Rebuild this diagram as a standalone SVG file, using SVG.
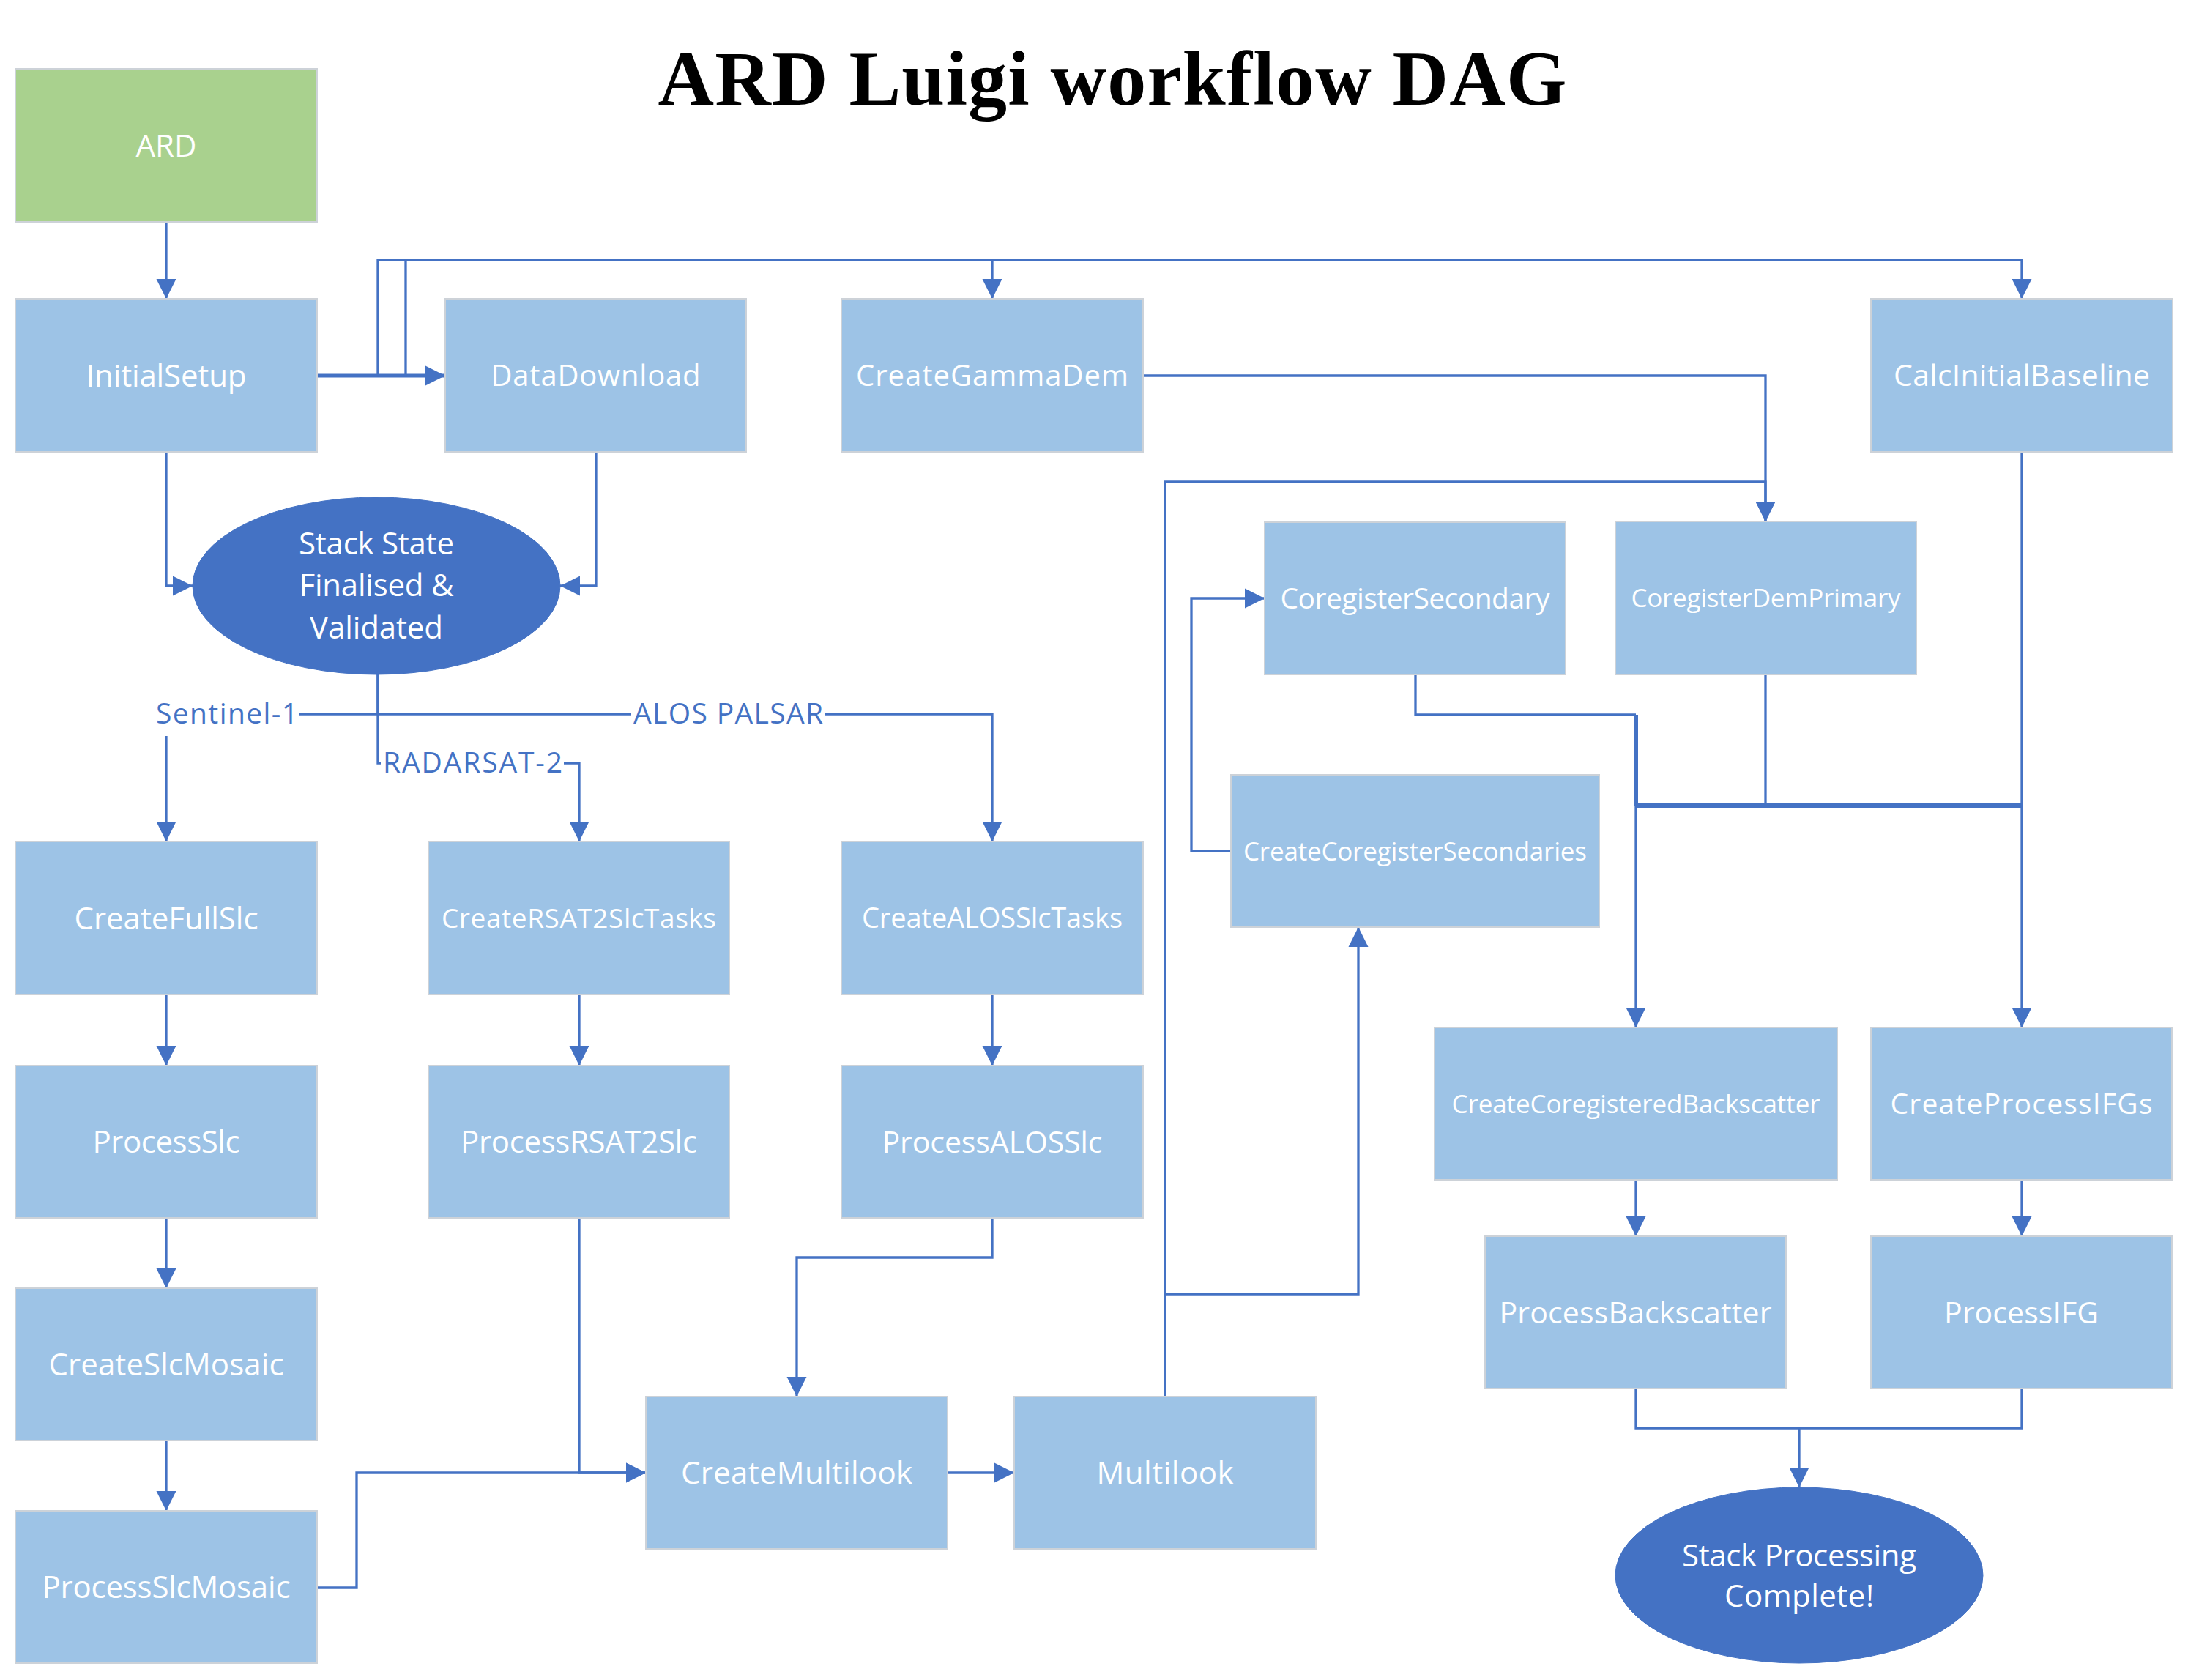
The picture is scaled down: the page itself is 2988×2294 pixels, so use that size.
<svg xmlns="http://www.w3.org/2000/svg" width="2988" height="2294" viewBox="0 0 2988 2294">
<style>
.box{fill:#9dc3e6;stroke:#cdd2d8;stroke-width:2}
.green{fill:#a9d18e;stroke:#cdd2d8;stroke-width:2}
.ell{fill:#4472c4;stroke:#4472c4;stroke-width:1}
.t{font-family:"Open Sans","Noto Sans","DejaVu Sans",sans-serif;fill:#ffffff;text-anchor:middle}
.lbl{font-family:"Open Sans","Noto Sans","DejaVu Sans",sans-serif;fill:#4472c4;font-size:39px}
.c{fill:none;stroke:#4472c4;stroke-width:3.3}
.arr{marker-end:url(#ah)}
.thick{stroke-width:6}
.title{font-family:"Liberation Serif","Times New Roman",serif;font-weight:bold;font-size:106px;fill:#000000;text-anchor:middle}
</style>
<defs>
<marker id="ah" markerUnits="userSpaceOnUse" markerWidth="28" markerHeight="28" refX="27" refY="13.5" orient="auto" viewBox="0 0 28 27">
<path d="M0,0 L27,13.5 L0,27 Z" fill="#4472c4"/>
</marker>
</defs>
<rect width="2988" height="2294" fill="#ffffff"/>
<text class="title" x="1519" y="143" textLength="1241">ARD Luigi workflow DAG</text>

<g id="connectors">
<path class="c arr" d="M227,303 V408"/>
<path class="c arr" style="stroke-width:5" d="M433,513 H608"/>
<path class="c arr" d="M433,513 H516 V355 H1355 V408"/>
<path class="c arr" d="M433,513 H554 V355 H2761 V408"/>
<path class="c arr" d="M227,617 V800 H263"/>
<path class="c arr" d="M814,617 V800 H765"/>
<path class="c arr" d="M516,920 V975 H227 V1149"/>
<path class="c arr" d="M516,920 V1042 H791 V1149"/>
<path class="c arr" d="M516,975 H1355 V1149"/>
<path class="c arr" d="M227,1358 V1455"/>
<path class="c arr" d="M227,1663 V1759"/>
<path class="c arr" d="M227,1967 V2063"/>
<path class="c arr" d="M791,1358 V1455"/>
<path class="c arr" d="M1355,1358 V1455"/>
<path class="c arr" d="M433,2168 H487 V2011 H882"/>
<path class="c arr" d="M791,1663 V2011 H882"/>
<path class="c arr" d="M1355,1663 V1717 H1088 V1907"/>
<path class="c arr" d="M1294,2011 H1385"/>
<path class="c arr" d="M1591,1907 V658 H2411 V712"/>
<path class="c arr" d="M1561,513 H2411 V712"/>
<path class="c arr" d="M1591,1767 H1855 V1266"/>
<path class="c arr" d="M1681,1162 H1627 V817 H1727"/>
<path class="c" d="M1933,921 V976 H2234"/>
<path class="c thick" d="M2234,976 V1100"/>
<path class="c arr" d="M2234,1100 V1403"/>
<path class="c" d="M2411,921 V1100"/>
<path class="c thick" d="M2234,1100 H2761"/>
<path class="c arr" d="M2761,617 V1403"/>
<path class="c arr" d="M2234,1611 V1688"/>
<path class="c arr" d="M2761,1611 V1688"/>
<path class="c arr" d="M2234,1896 V1950 H2457 V2031"/>
<path class="c" d="M2761,1896 V1950 H2457"/>
<rect x="209" y="955" width="200" height="50" fill="#ffffff"/>
<text class="lbl" x="213" y="988" textLength="194">Sentinel-1</text>
<rect x="862" y="957" width="264" height="38" fill="#ffffff"/>
<text class="lbl" x="865" y="988" textLength="259">ALOS PALSAR</text>
<rect x="520" y="1024" width="250" height="38" fill="#ffffff"/>
<text class="lbl" x="523" y="1055" textLength="245">RADARSAT-2</text>
</g>

<g id="ARD"><rect class="green" x="21" y="94" width="412" height="209"/><text class="t" x="227" y="213.5" font-size="42" textLength="83">ARD</text></g>
<g id="InitialSetup"><rect class="box" x="21" y="408" width="412" height="209"/><text class="t" x="227" y="527.5" font-size="42" textLength="219">InitialSetup</text></g>
<g id="DataDownload"><rect class="box" x="608" y="408" width="411" height="209"/><text class="t" x="813.5" y="527" font-size="40" textLength="286">DataDownload</text></g>
<g id="CreateGammaDem"><rect class="box" x="1149" y="408" width="412" height="209"/><text class="t" x="1355" y="527" font-size="40" textLength="372">CreateGammaDem</text></g>
<g id="CalcInitialBaseline"><rect class="box" x="2555" y="408" width="412" height="209"/><text class="t" x="2761" y="527" font-size="41" textLength="350">CalcInitialBaseline</text></g>
<g id="StackStateFinalised"><ellipse class="ell" cx="514" cy="800" rx="251" ry="121"/>
<text class="t" x="514" y="757" font-size="42" textLength="212">Stack State</text>
<text class="t" x="514" y="814" font-size="42" textLength="211">Finalised &amp;</text>
<text class="t" x="514" y="872" font-size="42" textLength="182">Validated</text></g>
<g id="CoregisterSecondary"><rect class="box" x="1727" y="713" width="411" height="208"/><text class="t" x="1932.5" y="831" font-size="39" textLength="368">CoregisterSecondary</text></g>
<g id="CoregisterDemPrimary"><rect class="box" x="2206" y="712" width="411" height="209"/><text class="t" x="2411.5" y="829" font-size="35" textLength="368">CoregisterDemPrimary</text></g>
<g id="CreateCoregisterSecondaries"><rect class="box" x="1681" y="1058" width="503" height="208"/><text class="t" x="1932.5" y="1174.5" font-size="35" textLength="469">CreateCoregisterSecondaries</text></g>
<g id="CreateFullSlc"><rect class="box" x="21" y="1149" width="412" height="209"/><text class="t" x="227" y="1268.5" font-size="42" textLength="251">CreateFullSlc</text></g>
<g id="CreateRSAT2SlcTasks"><rect class="box" x="585" y="1149" width="411" height="209"/><text class="t" x="790.5" y="1266.5" font-size="37" textLength="375">CreateRSAT2SlcTasks</text></g>
<g id="CreateALOSSlcTasks"><rect class="box" x="1149" y="1149" width="412" height="209"/><text class="t" x="1355" y="1267" font-size="38" textLength="356">CreateALOSSlcTasks</text></g>
<g id="CreateCoregisteredBackscatter"><rect class="box" x="1959" y="1403" width="550" height="208"/><text class="t" x="2234" y="1519.5" font-size="35" textLength="503">CreateCoregisteredBackscatter</text></g>
<g id="CreateProcessIFGs"><rect class="box" x="2555" y="1403" width="411" height="208"/><text class="t" x="2760.5" y="1521" font-size="39" textLength="358">CreateProcessIFGs</text></g>
<g id="ProcessSlc"><rect class="box" x="21" y="1455" width="412" height="208"/><text class="t" x="227" y="1574" font-size="42" textLength="201">ProcessSlc</text></g>
<g id="ProcessRSAT2Slc"><rect class="box" x="585" y="1455" width="411" height="208"/><text class="t" x="790.5" y="1574" font-size="42" textLength="323">ProcessRSAT2Slc</text></g>
<g id="ProcessALOSSlc"><rect class="box" x="1149" y="1455" width="412" height="208"/><text class="t" x="1355" y="1573.5" font-size="41" textLength="301">ProcessALOSSlc</text></g>
<g id="ProcessBackscatter"><rect class="box" x="2028" y="1688" width="411" height="208"/><text class="t" x="2233.5" y="1806.5" font-size="41" textLength="372">ProcessBackscatter</text></g>
<g id="ProcessIFG"><rect class="box" x="2555" y="1688" width="411" height="208"/><text class="t" x="2760.5" y="1806.5" font-size="41" textLength="211">ProcessIFG</text></g>
<g id="CreateSlcMosaic"><rect class="box" x="21" y="1759" width="412" height="208"/><text class="t" x="227" y="1878" font-size="42" textLength="321">CreateSlcMosaic</text></g>
<g id="CreateMultilook"><rect class="box" x="882" y="1907" width="412" height="208"/><text class="t" x="1088" y="2026" font-size="42" textLength="316">CreateMultilook</text></g>
<g id="Multilook"><rect class="box" x="1385" y="1907" width="412" height="208"/><text class="t" x="1591" y="2026" font-size="42" textLength="187">Multilook</text></g>
<g id="ProcessSlcMosaic"><rect class="box" x="21" y="2063" width="412" height="208"/><text class="t" x="227" y="2182" font-size="42" textLength="339">ProcessSlcMosaic</text></g>
<g id="StackProcessingComplete"><ellipse class="ell" cx="2457" cy="2151" rx="251" ry="120"/>
<text class="t" x="2457" y="2139" font-size="42" textLength="320">Stack Processing</text>
<text class="t" x="2457" y="2194" font-size="42" textLength="204">Complete!</text></g>
</svg>
